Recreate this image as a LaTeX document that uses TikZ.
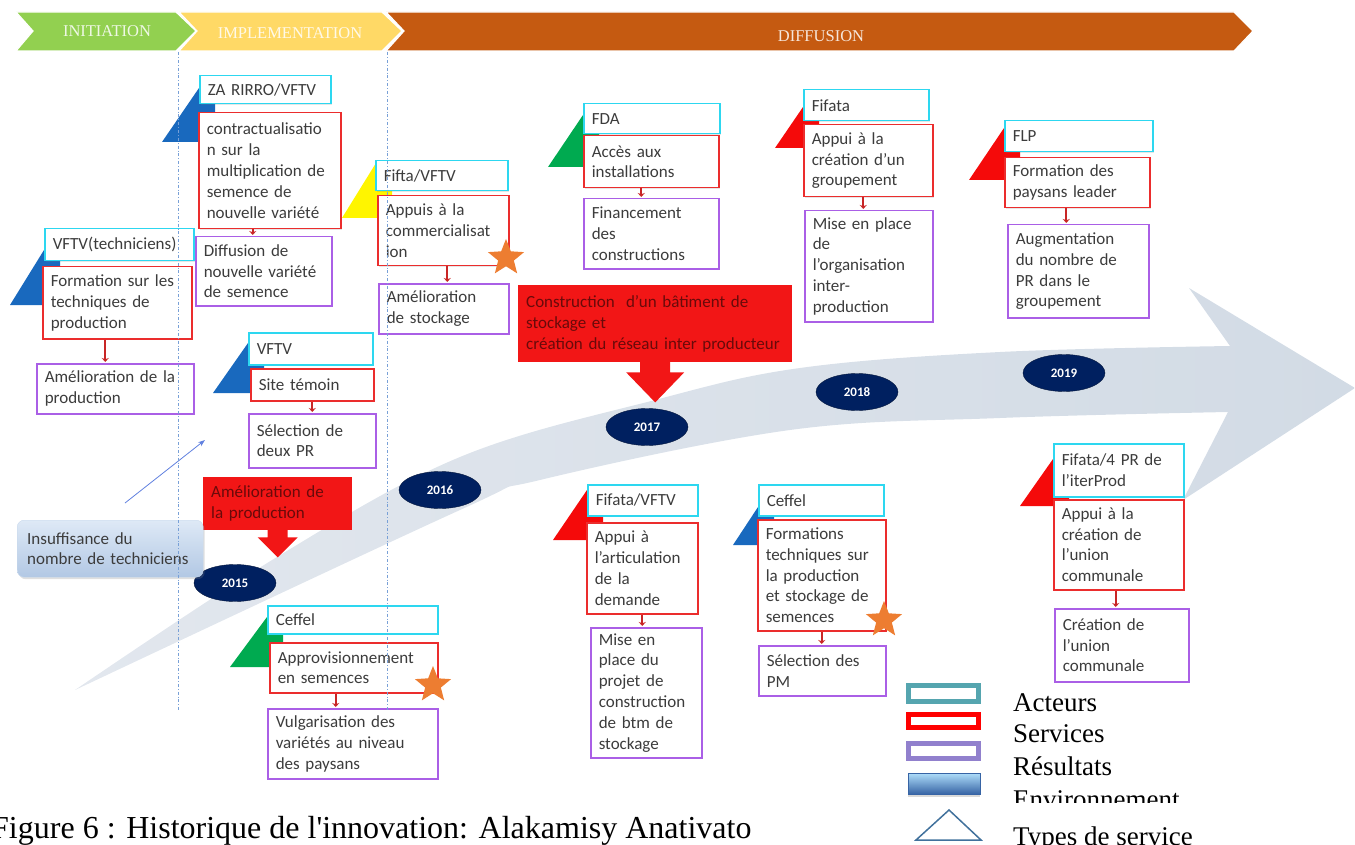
\documentclass[tikz,border=0pt]{standalone}
\usepackage{fontspec}
\setmainfont{Liberation Serif}
\newfontfamily\calfont{Carlito}
\usetikzlibrary{shapes.geometric,arrows.meta,shadows}

\definecolor{actcol}{RGB}{45,215,240}
\definecolor{srvcol}{RGB}{235,45,45}
\definecolor{rescol}{RGB}{170,95,230}
\definecolor{txtgray}{RGB}{60,60,60}
\definecolor{bandcol}{RGB}{210,219,229}
\definecolor{bandtail}{RGB}{226,231,238}
\definecolor{navy}{RGB}{0,32,96}
\definecolor{callred}{RGB}{242,22,22}
\definecolor{calltxt}{RGB}{105,10,10}
\definecolor{trblue}{RGB}{25,105,190}
\definecolor{trgreen}{RGB}{0,170,80}
\definecolor{trred}{RGB}{245,10,10}
\definecolor{tryellow}{RGB}{255,245,0}
\definecolor{starcol}{RGB}{237,125,49}
\definecolor{inigreen}{RGB}{146,208,80}
\definecolor{impyellow}{RGB}{255,217,102}
\definecolor{difforange}{RGB}{197,90,17}
\definecolor{guidecol}{RGB}{120,160,215}
\definecolor{envtop}{RGB}{222,233,246}
\definecolor{envbot}{RGB}{178,200,228}
\definecolor{legteal}{RGB}{85,165,175}
\definecolor{legred}{RGB}{255,0,0}
\definecolor{legpurple}{RGB}{145,128,205}
\definecolor{legblue}{RGB}{65,113,156}
\definecolor{keytop}{RGB}{175,222,250}
\definecolor{keymid}{RGB}{85,145,210}
\definecolor{keybot}{RGB}{55,100,165}

\begin{document}
\begin{tikzpicture}[x=1pt, y=-1pt,
    bx/.code 2 args={\pgfmathsetmacro\tw{#1-16}\pgfkeysalso{minimum width=#1pt, minimum height=#2pt, text width/.expanded=\tw pt}},
    box/.style={fill=white, line width=1.5pt, anchor=north west, align=left, inner xsep=8pt, inner ysep=2pt, text=txtgray, font=\calfont\fontsize{17}{20.8}\selectfont, drop shadow={opacity=.2, shadow xshift=1.5pt, shadow yshift=-1.5pt}},
    actor/.style={box, draw=actcol},
    service/.style={box, draw=srvcol},
    result/.style={box, draw=rescol},
    link/.style={srvcol!85!black, line width=2pt, shorten >=1pt, -{Stealth[length=4pt, width=7pt]}},
    year/.style={ellipse, fill=navy, draw=navy!60!black, minimum width=82pt, minimum height=37pt, inner sep=0pt, text=white, font=\calfont\bfseries\fontsize{13}{15}\selectfont},
    callout/.style={fill=callred, anchor=north west, align=left, inner xsep=8pt, text=calltxt, font=\calfont\fontsize{17}{20.8}\selectfont},
    starnode/.style={star, star points=5, star point ratio=2.3, fill=starcol, minimum size=38pt, inner sep=0pt},
    phase/.style={text=white, text opacity=.85, font=\fontsize{16.5}{18}\selectfont},
    chevron/.style={draw=white, line width=1.2pt},
    guide/.style={guidecol, line width=.6pt, dash pattern=on 3pt off 2pt on .8pt off 2pt},
    legkey/.style={line width=5pt, minimum width=70pt, inner sep=0pt},
    legtext/.style={anchor=base west, inner sep=0pt, font=\fontsize{27}{30}\selectfont}
  ]
  \useasboundingbox (0,0) rectangle (1355,845);

  % bandeau des phases
  \fill[difforange, chevron] (386,12) -- (1234,12) -- (1253,31) -- (1234,51) -- (386,51) -- (404,31) -- cycle;
  \fill[impyellow, chevron] (179,12) -- (382,12) -- (402,31) -- (382,51) -- (179,51) -- (197,31) -- cycle;
  \fill[inigreen, chevron] (16,12) -- (176,12) -- (196,31) -- (176,51) -- (16,51) -- (33,31) -- cycle;
  \node[phase] (ini) at (107,31) {INITIATION};
  \node[phase] (imp) at (290,33) {IMPLEMENTATION};
  \node[phase] (dif) at (821,36) {DIFFUSION};

  % fleche du temps
  \shade[left color=bandtail, right color=bandcol]
    plot[smooth, tension=.6] coordinates {(75,690) (277,557) (460,457) (655,400) (800,368) (1000,352) (1230,346)}
    -- (1189,288) -- (1355,388) -- (1183,500) -- (1228,412)
    -- plot[smooth, tension=.6] coordinates {(1228,412) (1000,418) (790,430) (540,480) (460,510) (75,690)}
    -- cycle;

  \node[year] (y15) at (235,583) {2015};
  \node[year] (y16) at (440,490) {2016};
  \node[year] (y17) at (647,427) {2017};
  \node[year] (y18) at (857,392) {2018};
  \node[year] (y19) at (1064,373) {2019};

  % types de service
  \fill[trblue] (10,305) -- (44,250) -- (60,250) -- (60,305) -- cycle;
  \fill[trblue] (162,142) -- (199,88) -- (215,88) -- (215,142) -- cycle;
  \fill[trblue] (213,393) -- (248,343) -- (264,343) -- (264,393) -- cycle;
  \fill[tryellow] (342,218) -- (376,163) -- (392,163) -- (392,218) -- cycle;
  \fill[trgreen] (548,167) -- (583,115) -- (599,115) -- (599,167) -- cycle;
  \fill[trred] (775,148) -- (803,107) -- (819,107) -- (819,148) -- cycle;
  \fill[trred] (969,180) -- (1004,128) -- (1020,128) -- (1020,180) -- cycle;
  \fill[trgreen] (230,667) -- (267,617) -- (283,617) -- (283,667) -- cycle;
  \fill[trred] (553,540) -- (587,490) -- (603,490) -- (603,540) -- cycle;
  \fill[trblue] (733,545) -- (758,507) -- (774,507) -- (774,545) -- cycle;
  \fill[trred] (1020,506) -- (1053,459) -- (1069,459) -- (1069,506) -- cycle;

  % acteurs, services, resultats
  \node[actor, bx={149}{32}] (act1) at (44,228) {VFTV(techniciens)};
  \node[service, bx={149}{72}] (srv1) at (42,266) {Formation sur les\\techniques de\\production};
  \node[result, bx={157}{50}] (res1) at (36,363) {Amélioration de la\\production};

  \node[actor, bx={131}{28}] (act2) at (199,75) {ZA RIRRO/VFTV};
  \node[service, bx={142}{116}] (srv2) at (198,112) {contractualisatio\\n sur la\\multiplication de\\semence de\\nouvelle variété};
  \node[result, bx={136}{69}] (res2) at (195,236) {Diffusion de\\nouvelle variété\\de semence};

  \node[actor, bx={124}{32}] (act3) at (248,332) {VFTV};
  \node[service, bx={123}{32}] (srv3) at (250,368) {Site témoin};
  \node[result, bx={127}{54}] (res3) at (248,413) {Sélection de\\deux PR};

  \node[actor, bx={132}{30}] (act4) at (375,160) {Fifta/VFTV};
  \node[service, bx={131}{70}] (srv4) at (377,195) {Appuis à la\\commercialisat\\ion};
  \node[result, bx={130}{50}] (res4) at (378,283) {Amélioration\\de stockage};

  \node[actor, bx={136}{30}] (act5) at (583,103) {FDA};
  \node[service, bx={135}{52}] (srv5) at (583,135) {Accès aux\\installations};
  \node[result, bx={135}{70}] (res5) at (583,198) {Financement\\des\\constructions};

  \node[actor, bx={125}{31}] (act6) at (803,89) {Fifata};
  \node[service, bx={129}{72}] (srv6) at (803,124) {Appui à la\\création d’un\\groupement};
  \node[result, bx={128}{111}] (res6) at (804,210) {Mise en place\\de\\l’organisation\\inter-\\production};

  \node[actor, bx={148}{31}] (act7) at (1004,120) {FLP};
  \node[service, bx={145}{50}] (srv7) at (1004,157) {Formation des\\paysans leader};
  \node[result, bx={141}{93}] (res7) at (1007,224) {Augmentation\\du nombre de\\PR dans le\\groupement};

  \node[actor, bx={170}{28}] (act8) at (267,605) {Ceffel};
  \node[service, bx={168}{50}] (srv8) at (269,642) {Approvisionnement\\en semences};
  \node[result, bx={170}{70}] (res8) at (267,708) {Vulgarisation des\\variétés au niveau\\des paysans};

  \node[actor, bx={110}{31}] (act9) at (587,484) {Fifata/VFTV};
  \node[service, bx={111}{91}] (srv9) at (586,522) {Appui à\\l’articulation\\de la\\demande};
  \node[result, bx={111}{130}] (res9) at (590,627) {Mise en\\place du\\projet de\\construction\\de btm de\\stockage};

  \node[actor, bx={125}{31}] (act10) at (758,484) {Ceffel};
  \node[service, bx={128}{111}] (srv10) at (757,519) {Formations\\techniques sur\\la production\\et stockage de\\semences};
  \node[result, bx={127}{50}] (res10) at (758,645) {Sélection des\\PM};

  \node[actor, bx={130}{53}] (act11) at (1053,443) {Fifata/4 PR de\\l’iterProd};
  \node[service, bx={130}{90}] (srv11) at (1053,499) {Appui à la\\création de\\l’union\\communale};
  \node[result, bx={134}{73}] (res11) at (1054,608) {Création de\\l’union\\communale};

  \draw[link] ([xshift=-12pt]srv1.south) -- ([xshift=-12pt]srv1.south |- res1.north);
  \draw[link] ([xshift=-17pt]srv2.south) -- ([xshift=-17pt]srv2.south |- res2.north);
  \draw[link] (srv3.south) -- (srv3.south |- res3.north);
  \draw[link] ([xshift=4pt]srv4.south) -- ([xshift=4pt]srv4.south |- res4.north);
  \draw[link] ([xshift=-10pt]srv5.south) -- ([xshift=-10pt]srv5.south |- res5.north);
  \draw[link] ([xshift=-5pt]srv6.south) -- ([xshift=-5pt]srv6.south |- res6.north);
  \draw[link] ([xshift=-11pt]srv7.south) -- ([xshift=-11pt]srv7.south |- res7.north);
  \draw[link] ([xshift=-18pt]srv8.south) -- ([xshift=-18pt]srv8.south |- res8.north);
  \draw[link] (srv9.south) -- (srv9.south |- res9.north);
  \draw[link] (srv10.south) -- (srv10.south |- res10.north);
  \draw[link] ([xshift=-3pt]srv11.south) -- ([xshift=-3pt]srv11.south |- res11.north);

  \node[starnode] (st4) at (506,258) {};
  \node[starnode] (st8) at (433,685) {};
  \node[starnode] (st10) at (884,620) {};

  % evenements
  \node[callout, bx={149}{53}] (cA) at (203,477) {Amélioration de\\la production};
  \fill[callred] ([xshift=-10pt,yshift=1pt]cA.south) -- ++(0,8) -- ++(-10,0) -- ++(20,20) -- ++(20,-20) -- ++(-10,0) -- ++(0,-8) -- cycle;
  \node[callout, bx={274}{77}] (cB) at (518,285) {Construction~ d’un bâtiment de\\stockage et\\création du réseau inter producteur};
  \fill[callred] ([xshift=-15pt,yshift=1pt]cB.south) -- ++(0,11) -- ++(-14,0) -- ++(29,30) -- ++(29,-30) -- ++(-14,0) -- ++(0,-11) -- cycle;

  % environnement
  \node[rounded corners=7pt, top color=envtop, bottom color=envbot, draw=envbot!70!white, line width=.4pt, anchor=north west, align=left, inner xsep=10pt, minimum width=183pt, minimum height=57pt, text width=166pt, text=txtgray, font=\calfont\fontsize{17}{20.8}\selectfont, drop shadow={opacity=.25, shadow xshift=1.5pt, shadow yshift=-2pt}] (ins) at (17,520) {Insuffisance du\\nombre de techniciens};
  \coordinate (insTail) at (125,503);
  \coordinate (insTip) at (205,440);
  \draw[-{Stealth[length=7pt, width=5pt]}, color=guidecol!80!blue, line width=.8pt] (insTail) -- (insTip);

  % limites des phases
  \draw[guide] (178,52) -- (178,710);
  \draw[guide] (387,52) -- (387,710);

  % legende
  \node[legkey, draw=legteal, minimum height=16pt] (key1) at (943.5,693.5) {};
  \node[legkey, draw=legred, minimum height=13pt] (key2) at (943.5,721) {};
  \node[legkey, draw=legpurple, minimum height=15pt] (key3) at (943.5,751) {};
  \node[top color=keytop, middle color=keymid, bottom color=keybot, draw=keybot, line width=.4pt, minimum width=72pt, minimum height=21pt, inner sep=0pt, drop shadow={opacity=.3, shadow xshift=0pt, shadow yshift=-3pt}] (key4) at (944,783.5) {};
  \draw[legblue, line width=1.5pt] (916,840) -- (949,810) -- (981,840) -- cycle;
  \node[legtext] (lab1) at (1013,711) {Acteurs};
  \node[legtext] (lab2) at (1013,742) {Services};
  \node[legtext] (lab3) at (1013,775) {Résultats};
  \begin{scope}
    \clip (1000,770) rectangle (1250,802);
    \node[legtext] (lab4) at (1013,808) {Environnement};
  \end{scope}
  \node[legtext] (lab5) at (1013,845) {Types de service};

  \node[anchor=base west, inner sep=0pt, font=\fontsize{32}{34}\selectfont] (cap) at (-9,838) {Figure 6 : Historique de l\textquotesingle innovation: Alakamisy Anativato};
\end{tikzpicture}
\end{document}
